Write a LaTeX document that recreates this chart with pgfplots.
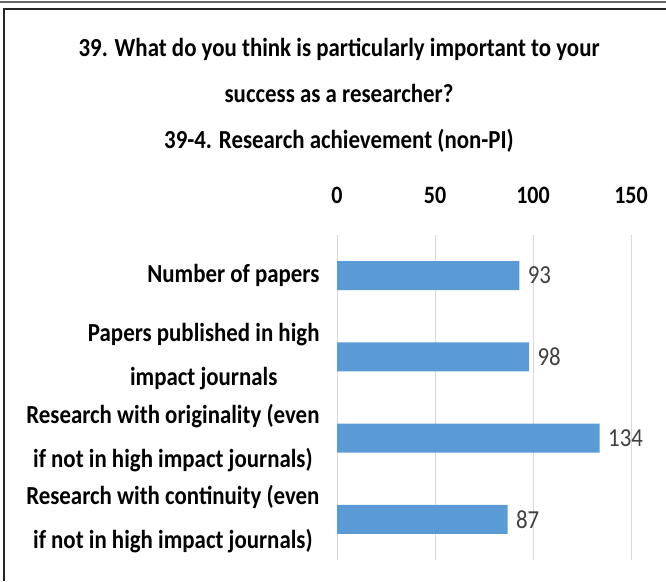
\documentclass[border=0pt]{standalone}
\usepackage{fontspec}
\setmainfont[FakeStretch=0.88]{Carlito}
\usepackage{pgfplots}
\pgfplotsset{compat=1.18}
\definecolor{barblue}{HTML}{5B9BD5}
\definecolor{gridgray}{HTML}{D9D9D9}
\definecolor{lblgray}{HTML}{404040}
\begin{document}
\begin{tikzpicture}
\path[use as bounding box] (0pt,0pt) rectangle (666pt,-581pt);
\draw[line width=1.2pt, black!60] (0pt,-2pt) -- (666pt,-2pt);
\draw[line width=2pt, black!85] (4pt,-581pt) -- (4pt,-8.5pt) -- (666pt,-8.5pt);
\node[font=\fontsize{26}{46}\selectfont\bfseries, align=center] at (339pt,-95pt)
  {39. What do you think is particularly important to your\\ success as a researcher?\\ 39-4. Research achievement (non-PI)};
\begin{axis}[
  at={(337pt,-560pt)}, anchor=south west,
  scale only axis, width=294pt, height=325pt,
  xmin=0, xmax=150, ymin=0.5, ymax=4.5, y dir=reverse,
  xbar, bar width=29pt,
  xtick={0,50,100,150}, xticklabel pos=upper,
  ytick={1,2,3,4},
  yticklabels={{Number of papers},{Papers published in high\\impact journals},{Research with originality (even\\if not in high impact journals)},{Research with continuity (even\\if not in high impact journals)}},
  axis line style={draw=none}, major tick length=0pt,
  xmajorgrids, grid style={gridgray, line width=1pt},
  /pgf/number format/assume math mode=true,
  xticklabel style={font=\fontsize{25}{25}\selectfont\bfseries, yshift=28pt},
  yticklabel style={font=\fontsize{26}{44}\selectfont\bfseries, align=center, xshift=-14pt},
  nodes near coords,
  nodes near coords style={anchor=west, font=\fontsize{26}{26}\selectfont, text=lblgray, xshift=5pt},
]
\addplot[fill=barblue, draw=none] coordinates {(93,1) (98,2) (134,3) (87,4)};
\end{axis}
\end{tikzpicture}
\end{document}
